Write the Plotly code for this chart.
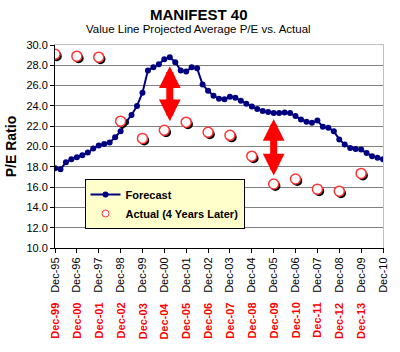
import plotly.graph_objects as go

# ---- data ----
tick_years = list(range(1995, 2011))
tick_labels = [f"Dec-{y % 100:02d}" for y in tick_years]
actual_labels = [f"Dec-{(y + 4) % 100:02d}" for y in range(1995, 2010)]

# quarterly forecast, Dec-95 .. Dec-10
forecast_pe = [
    17.85, 17.75, 18.45, 18.75, 18.95, 19.15, 19.4, 19.8, 20.1, 20.25,
    20.4, 20.9, 21.5, 22.4, 23.1, 24.0, 25.3, 27.5, 27.8, 28.1,
    28.6, 28.8, 28.3, 27.5, 27.4, 27.8, 27.7, 26.1, 25.5, 25.0,
    24.7, 24.65, 24.9, 24.8, 24.5, 24.2, 23.95, 23.7, 23.5, 23.4,
    23.3, 23.3, 23.35, 23.3, 23.0, 22.65, 22.45, 22.35, 22.55, 21.95,
    21.85, 21.5, 20.7, 20.2, 19.85, 19.75, 19.7, 19.35, 19.05, 18.9,
    18.75,
]
forecast_x = [1995 + 0.25 * i for i in range(len(forecast_pe))]

# actual P/E four years later (plotted at the forecast date)
actual_x = list(range(1995, 2010))
actual_pe = [29.1, 28.9, 28.8, 22.5, 20.8, 21.6, 22.4, 21.4, 21.1, 19.05,
             16.3, 16.8, 15.8, 15.6, 17.35]

# arrows: (x, top, bottom)
arrows = [(2000.25, 27.9, 22.35), (2005.0, 22.7, 17.0)]

FONT = "Arial, Liberation Sans, sans-serif"

fig = go.Figure()

fig.add_trace(go.Scatter(
    x=forecast_x, y=forecast_pe, mode="lines+markers", name="Forecast",
    line=dict(color="#000080", width=2),
    marker=dict(color="#000080", size=6),
))

# shadow of the actual markers
fig.add_trace(go.Scatter(
    x=[v + 0.08 for v in actual_x], y=[v - 0.2 for v in actual_pe],
    mode="markers", showlegend=False, hoverinfo="skip",
    marker=dict(color="black", size=10),
))
fig.add_trace(go.Scatter(
    x=actual_x, y=actual_pe, mode="markers", name="Actual (4 Years Later)",
    showlegend=False,
    marker=dict(color="white", size=10, line=dict(color="#FF3333", width=1.5)),
))
# legend entry with the small marker
fig.add_trace(go.Scatter(
    x=[None], y=[None], mode="markers", name="Actual (4 Years Later)",
    marker=dict(color="white", size=7, line=dict(color="#FF3333", width=1)),
))

for ax_x, top, bot in arrows:
    fig.add_annotation(
        x=ax_x, y=top, ax=ax_x, ay=bot, xref="x", yref="y", axref="x", ayref="y",
        showarrow=True, arrowhead=2, startarrowhead=2, arrowside="end+start",
        arrowwidth=7, arrowsize=0.62, startarrowsize=0.62,
        arrowcolor="#FF0000", text="", standoff=0, startstandoff=0,
    )

for xv, lab in zip(actual_x, actual_labels):
    fig.add_annotation(
        x=xv, y=-0.26, xref="x", yref="paper", text=f"<b>{lab}</b>",
        showarrow=False, textangle=-90, yanchor="top", xanchor="center",
        font=dict(family=FONT, size=11, color="#FF0000"),
    )

# titles
fig.add_annotation(
    x=0.5, y=14, xref="paper", yref="paper", text="<b>MANIFEST 40</b>",
    showarrow=False, xanchor="center", yanchor="middle",
    font=dict(family=FONT, size=15, color="black"),
)
fig.add_annotation(
    x=0.5, y=29, xref="paper", yref="paper",
    text="Value Line Projected Average P/E vs. Actual",
    showarrow=False, xanchor="center", yanchor="middle",
    font=dict(family=FONT, size=11.5, color="black"),
)

PLOT_TOP, PLOT_H = 45, 203
for a in fig.layout.annotations[-2:]:
    a.y = (PLOT_TOP + PLOT_H - a.y) / PLOT_H
    a.x = (200 - 53) / 336

fig.update_layout(
    width=400, height=352,
    margin=dict(l=53, r=11, t=45, b=104),
    paper_bgcolor="white", plot_bgcolor="white",
    font=dict(family=FONT, size=11, color="black"),
    showlegend=True,
    legend=dict(
        x=0.09, y=0.34, xanchor="left", yanchor="top",
        bgcolor="#FFFFCC", bordercolor="black", borderwidth=1,
        font=dict(family=FONT, size=11, color="black", weight="bold"),
        tracegroupgap=2,
    ),
    xaxis=dict(
        range=[1995, 2010], tickvals=tick_years, ticktext=tick_labels,
        tickangle=-90, ticks="outside", ticklen=4, tickcolor="black",
        showline=True, linecolor="black", linewidth=1, mirror=False,
        showgrid=False, zeroline=False,
        tickfont=dict(family=FONT, size=11, color="black"),
    ),
    xaxis2=dict(overlaying="x", side="top", showline=True, linecolor="#C0C0C0",
                showticklabels=False, ticks="", range=[1995, 2010], showgrid=False),
    yaxis=dict(
        range=[10, 30], dtick=2, tickformat=".1f",
        ticks="outside", ticklen=4, tickcolor="black",
        showline=True, linecolor="black", linewidth=1,
        showgrid=True, gridcolor="#808080", gridwidth=1, zeroline=False,
        title=dict(text="<b>P/E Ratio</b>", font=dict(family=FONT, size=14), standoff=6),
        tickfont=dict(family=FONT, size=11, color="black"),
    ),
    yaxis2=dict(overlaying="y", side="right", showline=True, linecolor="#C0C0C0",
                showticklabels=False, ticks="", range=[10, 30], showgrid=False),
)
# dummy trace to show the light top/right frame
fig.add_trace(go.Scatter(x=[None], y=[None], xaxis="x2", yaxis="y2", showlegend=False))

fig.write_html("out.html")
